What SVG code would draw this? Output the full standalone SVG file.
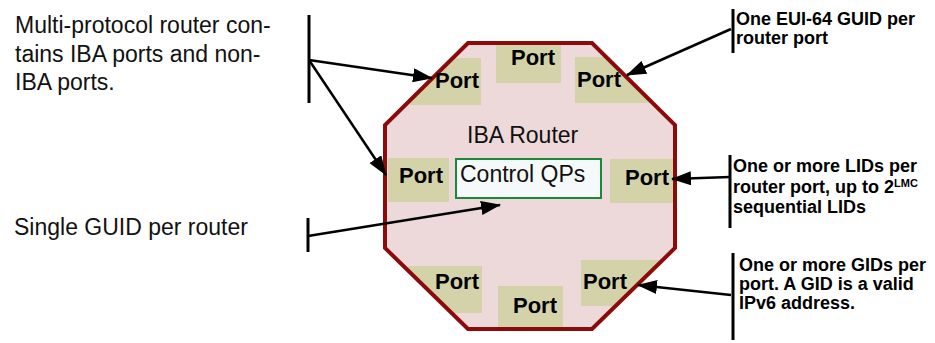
<svg xmlns="http://www.w3.org/2000/svg" width="935" height="343" viewBox="0 0 935 343">
<style>
.reg{font-family:"Liberation Sans",Arial,sans-serif;font-size:23px;fill:#111}
.port{font-family:"Liberation Sans",Arial,sans-serif;font-size:22px;font-weight:bold;fill:#000}
.note{font-family:"Liberation Sans",Arial,sans-serif;font-size:18px;font-weight:bold;fill:#000}
.pbox{fill:#D4D2A8}
.bar{stroke:#000;stroke-width:3;fill:none}
.conn{stroke:#000;stroke-width:2.5;fill:none;marker-end:url(#ah)}
</style>
<defs>
<marker id="ah" markerUnits="userSpaceOnUse" markerWidth="20" markerHeight="14" refX="19" refY="7" orient="auto">
<path d="M0,0 L20,7 L0,14 z" fill="#000"/>
</marker>
<clipPath id="oct">
<polygon points="468,43 592,43 675,125 675,248 592,329 468,329 385,248 385,125"/>
</clipPath>
</defs>
<rect width="935" height="343" fill="#fff"/>
<g id="router">
<polygon points="468,43 592,43 675,125 675,248 592,329 468,329 385,248 385,125" fill="#EDD9D9"/>
<g clip-path="url(#oct)">
<rect class="pbox" x="410" y="58" width="71" height="47"/>
<rect class="pbox" x="496" y="45" width="65" height="38"/>
<rect class="pbox" x="575" y="57" width="76" height="46"/>
<rect class="pbox" x="388" y="158" width="61" height="44"/>
<rect class="pbox" x="610" y="159" width="64" height="44"/>
<rect class="pbox" x="408" y="266" width="74" height="47"/>
<rect class="pbox" x="498" y="286" width="65" height="43"/>
<rect class="pbox" x="581" y="260" width="78" height="46"/>
</g>
<polygon points="468,43 592,43 675,125 675,248 592,329 468,329 385,248 385,125" fill="none" stroke="#8B0A0A" stroke-width="4"/>
<text class="reg" x="467" y="143">IBA Router</text>
</g>
<g id="port-tl"><text class="port" x="435" y="88">Port</text></g>
<g id="port-tm"><text class="port" x="511" y="65">Port</text></g>
<g id="port-tr"><text class="port" x="577" y="87">Port</text></g>
<g id="port-ml"><text class="port" x="399" y="183">Port</text></g>
<g id="port-mr"><text class="port" x="625" y="185">Port</text></g>
<g id="port-bl"><text class="port" x="435" y="289">Port</text></g>
<g id="port-bm"><text class="port" x="513" y="313">Port</text></g>
<g id="port-br"><text class="port" x="583" y="289">Port</text></g>
<g id="control-qps">
<rect x="456" y="159" width="145" height="39" fill="#F5F9F9" stroke="#1A8A3A" stroke-width="2"/>
<text class="reg" x="460" y="182">Control QPs</text>
</g>
<g id="note-multiprotocol">
<text class="reg" x="15" y="33">Multi-protocol router con-</text>
<text class="reg" x="15" y="62">tains IBA ports and non-</text>
<text class="reg" x="15" y="90">IBA ports.</text>
<line class="bar" x1="309" y1="15" x2="309" y2="103"/>
</g>
<g id="note-single-guid">
<text class="reg" x="14" y="235">Single GUID per router</text>
<line class="bar" x1="308" y1="218" x2="308" y2="252"/>
</g>
<g id="note-eui64">
<line class="bar" x1="733" y1="9" x2="733" y2="53"/>
<text class="note" x="736" y="25">One EUI-64 GUID per</text>
<text class="note" x="736" y="44">router port</text>
</g>
<g id="note-lids">
<line class="bar" x1="730" y1="155" x2="730" y2="228"/>
<text class="note" x="733" y="172">One or more LIDs per</text>
<text class="note" x="733" y="193">router port, up to 2<tspan font-size="11px" dy="-6">LMC</tspan></text>
<text class="note" x="733" y="213">sequential LIDs</text>
</g>
<g id="note-gids">
<line class="bar" x1="733" y1="253" x2="733" y2="340"/>
<text class="note" x="739" y="271">One or more GIDs per</text>
<text class="note" x="739" y="290">port. A GID is a valid</text>
<text class="note" x="739" y="309">IPv6 address.</text>
</g>
<g id="connectors">
<line class="conn" x1="309" y1="60" x2="432" y2="78"/>
<line class="conn" x1="309" y1="60" x2="386" y2="175"/>
<line class="conn" x1="308" y1="236" x2="500" y2="205"/>
<line class="conn" x1="731" y1="29" x2="627" y2="75"/>
<line class="conn" x1="730" y1="177" x2="672" y2="179"/>
<line class="conn" x1="731" y1="295" x2="638" y2="285"/>
</g>
</svg>
